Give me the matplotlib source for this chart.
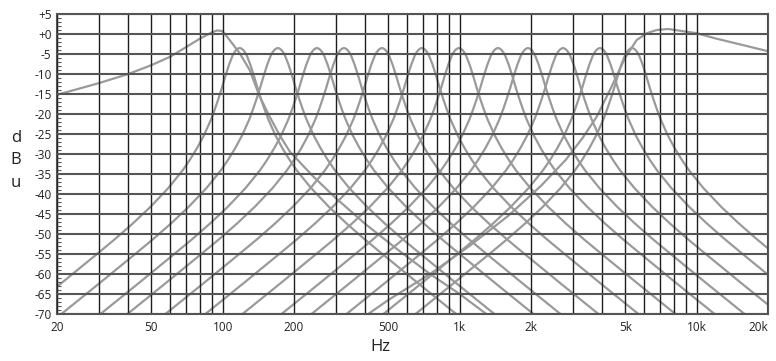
import numpy as np
import matplotlib
matplotlib.use('Agg')
import matplotlib.pyplot as plt
from matplotlib.ticker import FixedLocator, LogLocator, MultipleLocator, NullFormatter

plt.rcParams['font.family'] = ['Open Sans', 'DejaVu Sans']

# centre frequencies of the twelve band filters (Hz)
bell_centers = [118, 171, 250, 325, 470, 693, 993, 1452, 1943, 2730, 3909, 5336]
bell_peak = -3.5

# one band filter: octaves from centre / dB below peak
bell_oct = [0.0, 0.025, 0.05, 0.075, 0.1, 0.15, 0.2, 0.25, 0.3, 0.35, 0.4, 0.5,
            0.6, 0.7, 0.8, 1.0, 1.25, 1.5, 1.75, 2.0, 2.5, 3.0, 3.5, 4.0, 5.0, 6.0]
bell_drop = [0.0, -0.15, -0.5, -1.1, -1.9, -4.2, -7.0, -10.0, -12.8, -15.4,
             -17.8, -21.8, -25.1, -28.0, -30.6, -35.0, -39.7, -43.9, -47.8,
             -51.5, -58.8, -66.0, -73.0, -80.0, -94.0, -108.0]

# low band
low_hz = [20, 25, 30, 40, 50, 60, 70, 80, 90, 95, 100, 107, 118, 130, 143,
          158, 174, 192, 240, 300, 400, 550, 750, 1000, 1400]
low_db = [-15.2, -13.6, -12.3, -10.0, -7.8, -5.7, -3.3, -1.2, 0.4, 0.9, 0.7,
          -1.5, -4.8, -9.0, -15.5, -20.7, -25.3, -29.4, -35.5, -41.0, -47.5,
          -54.0, -60.0, -65.0, -71.5]

# high band
high_hz = [400, 500, 750, 1100, 1600, 2200, 2800, 3300, 3786, 4307, 4985,
           5585, 6163, 6788, 7585, 9000, 10000, 12000, 15000, 20000]
high_db = [-70.5, -66.5, -60.0, -53.0, -45.5, -38.0, -31.5, -26.0, -20.7,
           -14.0, -6.0, -1.5, 0.2, 1.0, 1.25, 0.6, 0.2, -1.1, -2.5, -4.3]

x_tick_hz = [20, 50, 100, 200, 500, 1000, 2000, 5000, 10000, 20000]
x_tick_labels = ['20', '50', '100', '200', '500', '1k', '2k', '5k', '10k', '20k']
y_ticks = list(range(5, -75, -5))

curve_color = '#9a9a9a'
text_color = '#222222'

fig = plt.figure(figsize=(7.76, 3.61), dpi=100)
ax = fig.add_axes([57 / 776, 1 - 314 / 361, 711 / 776, 300 / 361])

# mirror the bell shape round each centre
offs = np.array(bell_oct)
drop = np.array(bell_drop)
u = np.concatenate((-offs[::-1], offs[1:]))
d = np.concatenate((drop[::-1], drop[1:]))
for fc in bell_centers:
    ax.plot(fc * 2.0 ** u, bell_peak + d, color=curve_color, lw=1.6)

ax.plot(low_hz, low_db, color=curve_color, lw=1.6)
ax.plot(high_hz, high_db, color=curve_color, lw=1.6)

ax.set_xscale('log')
ax.set_xlim(20, 20000)
ax.set_ylim(-70, 5)

ax.xaxis.set_major_locator(FixedLocator(x_tick_hz))
ax.xaxis.set_minor_locator(LogLocator(base=10, subs=np.arange(2, 10)))
ax.xaxis.set_minor_formatter(NullFormatter())
ax.set_xticklabels(x_tick_labels)
ax.get_xticklabels()[-1].set_horizontalalignment('right')
ax.set_yticks(y_ticks)
ax.set_yticklabels([('+%d' % v) if v >= 0 else ('-%d' % -v) for v in y_ticks])
ax.yaxis.set_minor_locator(MultipleLocator(1))

ax.grid(True, axis='x', which='both', color='#1e1e1e', lw=1.0)
ax.grid(True, axis='y', which='major', color='#555555', lw=1.5)
ax.set_axisbelow(False)

ax.tick_params(axis='x', which='both', length=0, pad=5.0, labelsize=8.5,
               labelcolor=text_color)
ax.tick_params(axis='y', which='major', length=0, pad=4.0, labelsize=8.5,
               labelcolor=text_color)
ax.tick_params(axis='y', which='minor', direction='in', length=3, width=0.8,
               color='#555555')

for side in ['left', 'right', 'top', 'bottom']:
    ax.spines[side].set_color('#555555')
    ax.spines[side].set_linewidth(1.5)

fig.text(16 / 776, 1 - 138 / 361, 'd', ha='center', va='center',
         fontsize=12, color=text_color)
fig.text(16 / 776, 1 - 160 / 361, 'B', ha='center', va='center',
         fontsize=12, color=text_color)
fig.text(16 / 776, 1 - 183 / 361, 'u', ha='center', va='center',
         fontsize=12, color=text_color)
fig.text(380 / 776, 1 - 347 / 361, 'Hz', ha='center', va='center',
         fontsize=12, color=text_color)

fig.savefig('out.png', dpi=100)
